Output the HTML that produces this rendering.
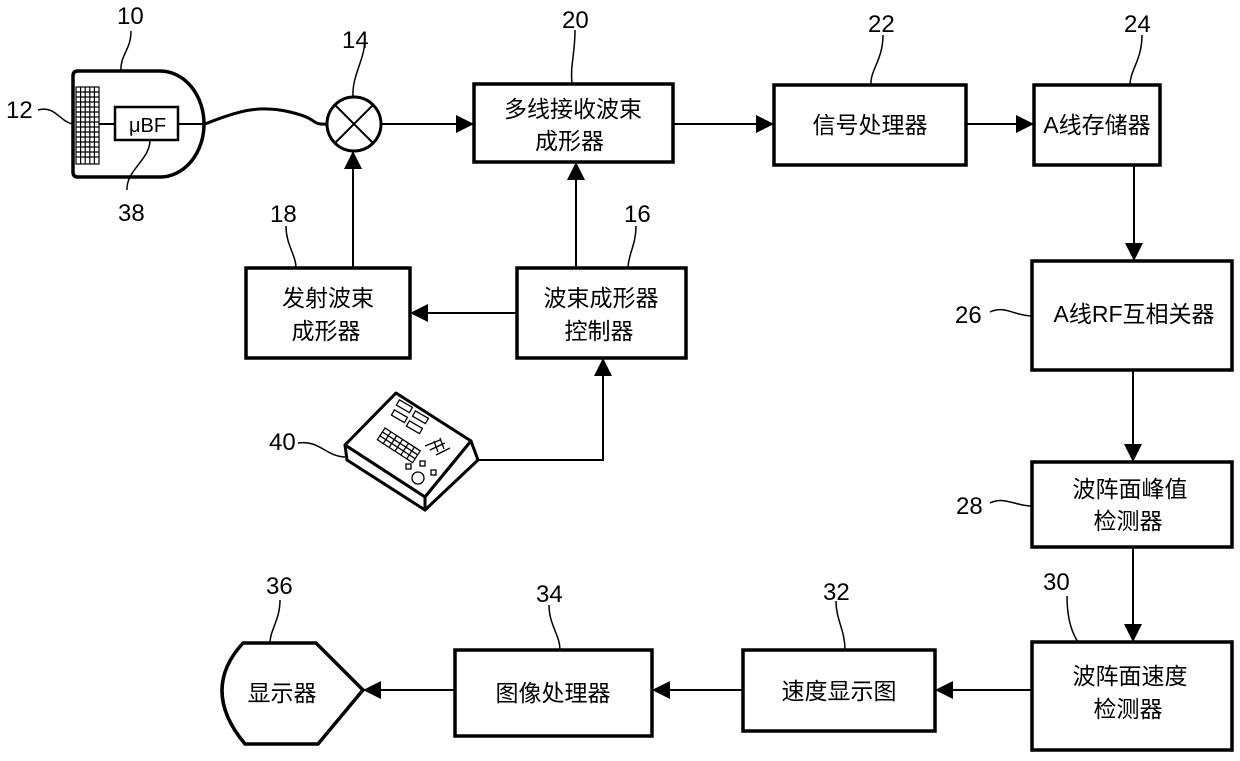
<!DOCTYPE html>
<html><head><meta charset="utf-8"><style>
body{margin:0;background:#fff}
text{font-family:"Liberation Sans","Noto Sans CJK SC",sans-serif;fill:#000}
.n{font-size:24px}
.t{font-size:23px}
</style></head><body>
<svg width="1240" height="756" viewBox="0 0 1240 756" xmlns="http://www.w3.org/2000/svg">
<defs><marker id="a" viewBox="0 0 10 10" refX="10" refY="5" markerWidth="18" markerHeight="18" markerUnits="userSpaceOnUse" orient="auto"><path d="M0,0L10,5L0,10z" fill="#000"/></marker></defs>
<g fill="none" stroke="#000" stroke-width="3.5">
<path d="M78,71 H160 A44,53 0 0 1 160,177 H78 Q73,177 73,172 V76 Q73,71 78,71 Z"/>
<rect x="115" y="107" width="63" height="33" stroke-width="2.5"/>
<rect x="474" y="84" width="199" height="78"/>
<rect x="774" y="85" width="192" height="80"/>
<rect x="1034" y="85" width="126" height="80"/>
<rect x="1032" y="261" width="200" height="109"/>
<rect x="1032" y="462" width="200" height="85"/>
<rect x="1032" y="642" width="200" height="108"/>
<rect x="743" y="650" width="192" height="81"/>
<rect x="455" y="650" width="197" height="86"/>
<rect x="246" y="268" width="164" height="90"/>
<rect x="517" y="268" width="169" height="90"/>
<path d="M243,643 H316 L363,690 L318,744 H245 Q200,690 243,643 Z"/>
<circle cx="354" cy="124" r="27" stroke-width="3"/>
<path d="M205,124 C240,110 260,105 290,112 S310,125 327,124" stroke-width="3"/>
</g>
<g stroke="#000" stroke-width="2">
<line x1="335" y1="105" x2="373" y2="143"/><line x1="373" y1="105" x2="335" y2="143"/>
<line x1="99" y1="124" x2="115" y2="124"/><line x1="178" y1="124" x2="203" y2="124"/>
</g>
<g stroke="#000" stroke-width="1.2" fill="none">
<rect x="76" y="87" width="23" height="77"/>
<line x1="80.6" y1="87" x2="80.6" y2="164"/><line x1="85.2" y1="87" x2="85.2" y2="164"/><line x1="89.8" y1="87" x2="89.8" y2="164"/><line x1="94.4" y1="87" x2="94.4" y2="164"/>
<path d="M76,92H99M76,97H99M76,102H99M76,107H99M76,112H99M76,117H99M76,122H99M76,127H99M76,132H99M76,137H99M76,142H99M76,147H99M76,152H99M76,157H99"/>
</g>
<g stroke="#000" stroke-width="2" fill="none" marker-end="url(#a)">
<line x1="381" y1="124" x2="474" y2="124"/>
<line x1="673" y1="124" x2="774" y2="124"/>
<line x1="966" y1="124" x2="1034" y2="124"/>
<line x1="1134" y1="165" x2="1134" y2="261"/>
<line x1="1133" y1="370" x2="1133" y2="462"/>
<line x1="1133" y1="547" x2="1133" y2="642"/>
<line x1="1032" y1="690" x2="935" y2="690"/>
<line x1="743" y1="690" x2="652" y2="690"/>
<line x1="455" y1="690" x2="363" y2="690"/>
<line x1="517" y1="313" x2="410" y2="313"/>
<line x1="576" y1="268" x2="576" y2="162"/>
<line x1="353" y1="268" x2="353" y2="151"/>
<polyline points="478,460 603,460 603,358"/>
</g>
<g stroke="#000" stroke-width="3" fill="#fff" stroke-linejoin="round">
<path d="M345,445 L396,393 L471,441 L425,497 Z"/>
<path d="M345,445 L347,460 L425,510 L425,497 Z"/>
<path d="M425,497 L471,441 L478,460 L425,510 Z"/>
</g>
<g stroke="#000" stroke-width="1.3" fill="none">
<g transform="translate(385,428) rotate(33)">
<rect x="0" y="0" width="42" height="14"/>
<path d="M7,0V14M14,0V14M21,0V14M28,0V14M35,0V14M0,4.7H42M0,9.3H42"/>
</g>
<rect x="397" y="403" width="15" height="6" transform="rotate(30 404 406)"/>
<rect x="392" y="413" width="15" height="6" transform="rotate(30 399 416)"/>
<rect x="413" y="414" width="15" height="6" transform="rotate(30 420 417)"/>
<rect x="407" y="424" width="15" height="6" transform="rotate(30 414 427)"/>
<circle cx="418" cy="478" r="6"/>
<rect x="406" y="464" width="5" height="5"/><rect x="420" y="461" width="5" height="5"/><rect x="431" y="470" width="5" height="5"/>
<path d="M425,446 L440,440 M430,450 L445,443 M436,455 L450,448 M434,441 L438,452 M440,438 L444,449"/>
</g>
<g stroke="#000" stroke-width="1.5" fill="none">
<path d="M131,31 C131,50 120,55 121,71"/>
<path d="M38,110 C55,105 60,122 73,124"/>
<path d="M150,140 C150,160 126,170 127,190"/>
<path d="M365,38 C365,60 352,75 353,96"/>
<path d="M575,30 C575,55 570,65 572,84"/>
<path d="M883,35 C883,60 870,70 871,85"/>
<path d="M1142,35 C1142,60 1130,70 1130,85"/>
<path d="M286,226 C286,245 296,255 296,268"/>
<path d="M636,226 C636,245 628,255 628,268"/>
<path d="M298,443 C320,440 325,456 345,457"/>
<path d="M990,312 C1005,305 1015,316 1032,316"/>
<path d="M990,503 C1005,496 1015,506 1032,506"/>
<path d="M1067,596 C1067,615 1070,630 1078,642"/>
<path d="M836,601 C836,620 845,630 845,650"/>
<path d="M549,605 C549,625 560,635 560,650"/>
<path d="M280,600 C280,620 270,630 270,643"/>
</g>
<g class="n">
<text x="117" y="24">10</text>
<text x="6" y="118">12</text>
<text x="118" y="221">38</text>
<text x="342" y="48">14</text>
<text x="562" y="28">20</text>
<text x="868" y="32">22</text>
<text x="1124" y="32">24</text>
<text x="270" y="222">18</text>
<text x="624" y="222">16</text>
<text x="269" y="450">40</text>
<text x="955" y="323">26</text>
<text x="956" y="514">28</text>
<text x="1043" y="590">30</text>
<text x="823" y="600">32</text>
<text x="536" y="602">34</text>
<text x="266" y="594">36</text>
</g>
<g class="t">
<text x="129" y="132" font-size="20">μBF</text>
<text x="573" y="117" text-anchor="middle">多线接收波束</text>
<text x="535" y="149">成形器</text>
<text x="870" y="133" text-anchor="middle">信号处理器</text>
<text x="1097" y="133" text-anchor="middle">A线存储器</text>
<text x="1134" y="322" text-anchor="middle">A线RF互相关器</text>
<text x="1130" y="497" text-anchor="middle">波阵面峰值</text>
<text x="1128" y="529" text-anchor="middle">检测器</text>
<text x="1130" y="684" text-anchor="middle">波阵面速度</text>
<text x="1128" y="717" text-anchor="middle">检测器</text>
<text x="839" y="699" text-anchor="middle">速度显示图</text>
<text x="553" y="701" text-anchor="middle">图像处理器</text>
<text x="282" y="701" text-anchor="middle">显示器</text>
<text x="328" y="306" text-anchor="middle">发射波束</text>
<text x="326" y="339" text-anchor="middle">成形器</text>
<text x="601" y="306" text-anchor="middle">波束成形器</text>
<text x="599" y="339" text-anchor="middle">控制器</text>
</g>
</svg>
</body></html>
